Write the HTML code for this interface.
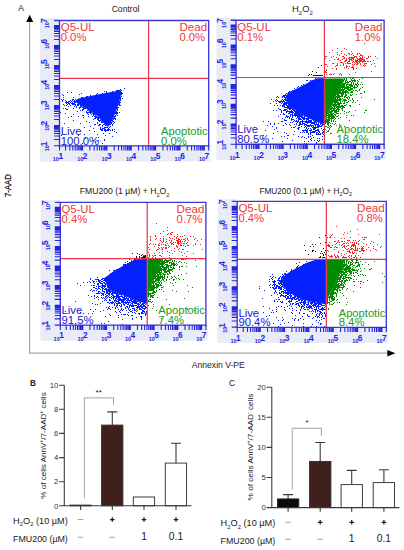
<!DOCTYPE html><html><head><meta charset="utf-8"><style>html,body{margin:0;padding:0;background:#fff;overflow:hidden}svg{display:block}</style></head><body>
<svg width="404" height="550" viewBox="0 0 404 550">
<rect width="404" height="550" fill="#fff"/>
<rect x="39.9" y="18.2" width="19.6" height="143.2" fill="#e9ecf7"/>
<rect x="39.9" y="145.8" width="170.5" height="15.6" fill="#e9ecf7"/>
<rect x="59.5" y="20.5" width="149.2" height="125.3" fill="#fff"/>
<path d="M121.3 90.3 L113.9 91.4 L105.8 93.0 L97.6 94.6 L89.4 96.2 L82.9 97.6 L78.0 98.8 L75.5 100.5 L76.5 102.8 L79.6 104.8 L85.5 108.3 L92.0 112.3 L97.6 116.3 L101.0 120.3 L104.4 123.8 L107.2 126.3 L108.2 127.0 L110.7 123.5 L113.9 116.7 L116.4 110.1 L118.8 103.6 L121.3 93.8 Z" fill="#0420ff"/><path d="M124 88h1M120 89h1M116 90h1M117 90h1M118 90h1M119 90h1M121 90h1M104 91h1M106 91h1M112 91h1M67 92h1M71 92h1M106 92h1M121 92h1M81 93h1M97 93h1M102 93h1M121 93h1M122 93h1M62 94h1M79 94h1M96 94h1M121 94h1M63 95h1M90 95h1M86 96h1M87 96h1M121 96h1M63 97h1M73 97h1M81 97h1M82 97h1M120 97h1M120 98h1M122 98h1M61 99h1M63 99h1M72 99h1M73 99h1M75 99h1M120 99h1M62 100h1M65 100h1M70 100h1M72 100h1M74 100h1M120 100h1M62 101h1M66 101h1M68 101h1M69 101h1M71 101h1M73 101h1M74 101h1M75 101h1M119 101h1M65 102h1M66 102h1M67 102h1M68 102h1M70 102h1M72 102h1M74 102h1M75 102h1M119 102h1M120 102h1M66 103h1M68 103h1M69 103h1M71 103h1M72 103h1M73 103h1M74 103h1M119 103h1M63 104h1M67 104h1M69 104h1M72 104h1M73 104h1M74 104h1M75 104h1M77 104h1M78 104h1M118 104h1M119 104h1M64 105h1M66 105h1M70 105h1M75 105h1M77 105h1M78 105h1M80 105h1M119 105h1M120 105h1M68 106h1M74 106h1M76 106h1M80 106h1M81 106h1M76 107h1M79 107h1M80 107h1M82 107h1M83 107h1M117 107h1M118 107h1M63 108h1M65 108h1M73 108h1M79 108h1M83 108h1M84 108h1M85 108h1M117 108h1M66 109h1M67 109h1M82 109h1M83 109h1M117 109h1M80 110h1M82 110h1M87 110h1M88 110h1M117 110h1M77 111h1M86 111h1M89 111h1M90 111h1M116 111h1M60 112h1M86 112h1M87 112h1M88 112h1M89 112h1M90 112h1M91 112h1M115 112h1M116 112h1M117 112h1M119 112h1M65 113h1M87 113h1M90 113h1M92 113h1M93 113h1M115 113h1M116 113h1M117 113h1M73 114h1M88 114h1M91 114h1M93 114h1M94 114h1M116 114h1M82 115h1M83 115h1M93 115h1M95 115h1M115 115h1M117 115h1M71 116h1M78 116h1M88 116h1M92 116h1M94 116h1M95 116h1M96 116h1M114 116h1M115 116h1M68 117h1M83 117h1M95 117h1M96 117h1M97 117h1M98 117h1M114 117h1M94 118h1M95 118h1M97 118h1M98 118h1M113 118h1M114 118h1M115 118h1M93 119h1M97 119h1M98 119h1M113 119h1M115 119h1M73 120h1M98 120h1M99 120h1M100 120h1M112 120h1M86 121h1M99 121h1M101 121h1M112 121h1M113 121h1M89 122h1M97 122h1M101 122h1M102 122h1M111 122h1M114 122h1M64 123h1M80 123h1M97 123h1M111 123h1M113 123h1M94 124h1M95 124h1M99 124h1M100 124h1M103 124h1M104 124h1M110 124h1M112 124h1M98 125h1M99 125h1M102 125h1M105 125h1M112 125h1M90 126h1M102 126h1M110 126h1M84 127h1M100 127h1M104 127h1M105 127h1M106 127h1M107 127h1M109 127h1M93 128h1M100 128h1M102 128h1M103 128h1M104 128h1M108 128h1M100 129h1M101 129h1M102 129h1M104 129h1M105 129h1M107 129h1M108 129h1M109 129h1M112 129h1M114 129h1M89 130h1M101 130h1M102 130h1M104 130h1M105 130h1M106 130h1M107 130h1M108 130h1M110 130h1M112 130h1M94 131h1M105 131h1M114 131h1M116 132h1M103 133h1M109 133h1M84 134h1M97 134h1M61 135h1M78 135h1M105 135h1M112 136h1M98 137h1M85 138h1M104 139h1M93 140h1M98 140h1M104 140h1M95 142h1M82 143h1M102 143h1" stroke="#0420ff" stroke-width="1" transform="translate(0 0.5)"/>
<path d="M148.6 20.5V145.8M59.5 78.3H208.7" stroke="#ec3248" stroke-width="1.2" fill="none"/>
<path d="M54.0 20.5H208.7V145.8H59.5V20.5" stroke="#3a38d8" stroke-width="1.35" fill="none"/>
<path d="M65.53 145.8V150.6M54.0 139.48H59.5M69.82 145.8V150.6M54.0 135.96H59.5M72.86 145.8V150.6M54.0 133.46H59.5M75.22 145.8V150.6M54.0 131.52H59.5M77.15 145.8V150.6M54.0 129.94H59.5M78.78 145.8V150.6M54.0 128.60H59.5M80.19 145.8V150.6M54.0 127.44H59.5M81.44 145.8V150.6M54.0 126.42H59.5M82.55 145.8V150.6M54.0 125.50H59.5M89.88 145.8V150.6M54.0 119.48H59.5M94.17 145.8V150.6M54.0 115.96H59.5M97.21 145.8V150.6M54.0 113.46H59.5M99.57 145.8V150.6M54.0 111.52H59.5M101.50 145.8V150.6M54.0 109.94H59.5M103.13 145.8V150.6M54.0 108.60H59.5M104.54 145.8V150.6M54.0 107.44H59.5M105.79 145.8V150.6M54.0 106.42H59.5M106.90 145.8V150.6M54.0 105.50H59.5M114.23 145.8V150.6M54.0 99.48H59.5M118.52 145.8V150.6M54.0 95.96H59.5M121.56 145.8V150.6M54.0 93.46H59.5M123.92 145.8V150.6M54.0 91.52H59.5M125.85 145.8V150.6M54.0 89.94H59.5M127.48 145.8V150.6M54.0 88.60H59.5M128.89 145.8V150.6M54.0 87.44H59.5M130.14 145.8V150.6M54.0 86.42H59.5M131.25 145.8V150.6M54.0 85.50H59.5M138.58 145.8V150.6M54.0 79.48H59.5M142.87 145.8V150.6M54.0 75.96H59.5M145.91 145.8V150.6M54.0 73.46H59.5M148.27 145.8V150.6M54.0 71.52H59.5M150.20 145.8V150.6M54.0 69.94H59.5M151.83 145.8V150.6M54.0 68.60H59.5M153.25 145.8V150.6M54.0 67.44H59.5M154.49 145.8V150.6M54.0 66.42H59.5M155.60 145.8V150.6M54.0 65.50H59.5M162.94 145.8V150.6M54.0 59.48H59.5M167.22 145.8V150.6M54.0 55.96H59.5M170.27 145.8V150.6M54.0 53.46H59.5M172.63 145.8V150.6M54.0 51.52H59.5M174.55 145.8V150.6M54.0 49.94H59.5M176.18 145.8V150.6M54.0 48.60H59.5M177.60 145.8V150.6M54.0 47.44H59.5M178.84 145.8V150.6M54.0 46.42H59.5M179.96 145.8V150.6M54.0 45.50H59.5M187.29 145.8V150.6M54.0 39.48H59.5M191.57 145.8V150.6M54.0 35.96H59.5M194.62 145.8V150.6M54.0 33.46H59.5M196.98 145.8V150.6M54.0 31.52H59.5M198.91 145.8V150.6M54.0 29.94H59.5M200.54 145.8V150.6M54.0 28.60H59.5M201.95 145.8V150.6M54.0 27.44H59.5M203.19 145.8V150.6M54.0 26.42H59.5M204.31 145.8V150.6M54.0 25.50H59.5M54.0 145.8H59.5M59.5 145.8V150.6M208.7 145.8V150.6" stroke="#2424e0" stroke-width="1.1" fill="none"/>
<g font-family="'Liberation Sans', sans-serif" fill="#2424e0" font-weight="bold"><text x="52.8" y="161.2" font-size="5.5">10</text><text x="58.4" y="159.1" font-size="8.4">1</text><g transform="translate(49.3 147.4) rotate(-90)"><text x="-3.9" y="0" font-size="5.5">10</text><text x="1.2" y="-2.5" font-size="8.4">1</text></g><text x="77.2" y="161.2" font-size="5.5">10</text><text x="82.8" y="159.1" font-size="8.4">2</text><g transform="translate(49.3 126.8) rotate(-90)"><text x="-3.9" y="0" font-size="5.5">10</text><text x="1.2" y="-2.5" font-size="8.4">2</text></g><text x="101.5" y="161.2" font-size="5.5">10</text><text x="107.1" y="159.1" font-size="8.4">3</text><g transform="translate(49.3 106.3) rotate(-90)"><text x="-3.9" y="0" font-size="5.5">10</text><text x="1.2" y="-2.5" font-size="8.4">3</text></g><text x="125.9" y="161.2" font-size="5.5">10</text><text x="131.5" y="159.1" font-size="8.4">4</text><g transform="translate(49.3 85.8) rotate(-90)"><text x="-3.9" y="0" font-size="5.5">10</text><text x="1.2" y="-2.5" font-size="8.4">4</text></g><text x="150.2" y="161.2" font-size="5.5">10</text><text x="155.8" y="159.1" font-size="8.4">5</text><g transform="translate(49.3 65.3) rotate(-90)"><text x="-3.9" y="0" font-size="5.5">10</text><text x="1.2" y="-2.5" font-size="8.4">5</text></g><text x="174.6" y="161.2" font-size="5.5">10</text><text x="180.2" y="159.1" font-size="8.4">6</text><g transform="translate(49.3 44.8) rotate(-90)"><text x="-3.9" y="0" font-size="5.5">10</text><text x="1.2" y="-2.5" font-size="8.4">6</text></g><text x="198.9" y="161.2" font-size="5.5">10</text><text x="204.5" y="159.1" font-size="8.4">7</text><g transform="translate(49.3 24.3) rotate(-90)"><text x="-3.9" y="0" font-size="5.5">10</text><text x="1.2" y="-2.5" font-size="8.4">7</text></g></g>
<g font-family="'Liberation Sans', sans-serif" font-size="11.3"><text x="60.7" y="31.0" fill="#f03838" textLength="34.0" lengthAdjust="spacingAndGlyphs">Q5-UL</text><text x="60.7" y="41.0" fill="#f03838">0.0%</text><text x="179.4" y="31.0" fill="#f03838" textLength="27.8" lengthAdjust="spacingAndGlyphs">Dead</text><text x="179.4" y="41.0" fill="#f03838">0.0%</text><text x="60.7" y="135.0" fill="#2020cc">Live</text><text x="60.7" y="144.6" fill="#2020cc">100.0%</text><text x="161.1" y="135.0" fill="#1e9a1e" textLength="46.6" lengthAdjust="spacingAndGlyphs">Apoptotic</text><text x="161.1" y="144.6" fill="#1e9a1e">0.0%</text></g>
<rect x="216.5" y="17.9" width="19.6" height="141.9" fill="#e9ecf7"/>
<rect x="216.5" y="144.2" width="169.3" height="15.6" fill="#e9ecf7"/>
<rect x="236.1" y="20.2" width="148.0" height="124.0" fill="#fff"/>
<path d="M324.5 78.3 L317.4 78.3 L311.0 80.8 L306.7 83.6 L297.0 88.5 L287.5 93.0 L285.9 100.9 L290.0 106.0 L295.4 110.4 L302.0 114.7 L309.0 118.6 L316.0 121.5 L324.5 124.0 Z" fill="#0420ff"/><path d="M315 78h1M306 80h1M307 80h1M310 80h1M303 84h1M301 85h1M298 86h1M297 87h1M294 88h1M292 90h1M289 91h1M288 92h1M286 93h1M285 94h1M283 95h1M284 95h1M285 95h1M286 95h1M277 96h1M282 96h1M283 96h1M284 96h1M286 96h1M276 97h1M278 97h1M282 97h1M284 97h1M285 97h1M286 97h1M285 98h1M271 99h1M276 99h1M282 99h1M284 99h1M285 99h1M275 100h1M277 100h1M281 100h1M283 100h1M285 100h1M273 101h1M276 101h1M278 101h1M279 101h1M280 101h1M281 101h1M282 101h1M283 101h1M284 101h1M279 102h1M280 102h1M282 102h1M284 102h1M285 102h1M286 102h1M270 103h1M276 103h1M281 103h1M283 103h1M284 103h1M285 103h1M286 103h1M287 103h1M283 104h1M284 104h1M285 104h1M286 104h1M288 104h1M274 105h1M277 105h1M280 105h1M282 105h1M283 105h1M284 105h1M286 105h1M287 105h1M288 105h1M289 105h1M282 106h1M283 106h1M284 106h1M287 106h1M288 106h1M289 106h1M290 106h1M284 107h1M285 107h1M286 107h1M287 107h1M288 107h1M289 107h1M290 107h1M291 107h1M278 108h1M287 108h1M288 108h1M289 108h1M290 108h1M291 108h1M292 108h1M279 109h1M280 109h1M284 109h1M285 109h1M286 109h1M289 109h1M290 109h1M292 109h1M293 109h1M273 110h1M276 110h1M281 110h1M283 110h1M284 110h1M285 110h1M287 110h1M291 110h1M293 110h1M294 110h1M281 111h1M286 111h1M287 111h1M288 111h1M289 111h1M290 111h1M291 111h1M292 111h1M294 111h1M295 111h1M296 111h1M281 112h1M286 112h1M289 112h1M290 112h1M291 112h1M292 112h1M293 112h1M295 112h1M296 112h1M297 112h1M298 112h1M283 113h1M288 113h1M289 113h1M292 113h1M294 113h1M295 113h1M296 113h1M297 113h1M298 113h1M299 113h1M280 114h1M283 114h1M284 114h1M290 114h1M291 114h1M292 114h1M294 114h1M295 114h1M296 114h1M297 114h1M298 114h1M299 114h1M300 114h1M301 114h1M286 115h1M290 115h1M292 115h1M293 115h1M294 115h1M295 115h1M296 115h1M297 115h1M298 115h1M299 115h1M300 115h1M301 115h1M302 115h1M278 116h1M286 116h1M287 116h1M288 116h1M290 116h1M292 116h1M295 116h1M297 116h1M298 116h1M299 116h1M300 116h1M301 116h1M302 116h1M304 116h1M285 117h1M287 117h1M289 117h1M292 117h1M297 117h1M298 117h1M299 117h1M301 117h1M302 117h1M303 117h1M304 117h1M282 118h1M289 118h1M291 118h1M296 118h1M298 118h1M299 118h1M300 118h1M302 118h1M303 118h1M304 118h1M305 118h1M306 118h1M307 118h1M308 118h1M284 119h1M291 119h1M292 119h1M293 119h1M298 119h1M299 119h1M300 119h1M301 119h1M303 119h1M304 119h1M306 119h1M307 119h1M308 119h1M284 120h1M285 120h1M286 120h1M291 120h1M294 120h1M296 120h1M298 120h1M302 120h1M306 120h1M308 120h1M309 120h1M310 120h1M311 120h1M313 120h1M263 121h1M268 121h1M281 121h1M282 121h1M293 121h1M295 121h1M296 121h1M297 121h1M298 121h1M300 121h1M301 121h1M302 121h1M303 121h1M304 121h1M305 121h1M306 121h1M307 121h1M308 121h1M309 121h1M310 121h1M311 121h1M314 121h1M315 121h1M290 122h1M292 122h1M297 122h1M299 122h1M300 122h1M302 122h1M305 122h1M306 122h1M307 122h1M308 122h1M309 122h1M310 122h1M311 122h1M312 122h1M313 122h1M314 122h1M315 122h1M316 122h1M318 122h1M270 123h1M274 123h1M278 123h1M285 123h1M296 123h1M299 123h1M300 123h1M302 123h1M303 123h1M304 123h1M307 123h1M311 123h1M312 123h1M313 123h1M314 123h1M316 123h1M318 123h1M320 123h1M321 123h1M322 123h1M270 124h1M274 124h1M286 124h1M289 124h1M294 124h1M296 124h1M299 124h1M300 124h1M301 124h1M302 124h1M304 124h1M305 124h1M306 124h1M310 124h1M314 124h1M315 124h1M316 124h1M317 124h1M318 124h1M320 124h1M322 124h1M323 124h1M267 125h1M283 125h1M290 125h1M298 125h1M299 125h1M304 125h1M306 125h1M307 125h1M308 125h1M309 125h1M310 125h1M311 125h1M312 125h1M313 125h1M315 125h1M317 125h1M318 125h1M319 125h1M321 125h1M322 125h1M272 126h1M295 126h1M301 126h1M305 126h1M307 126h1M308 126h1M309 126h1M311 126h1M313 126h1M315 126h1M317 126h1M318 126h1M319 126h1M320 126h1M321 126h1M254 127h1M276 127h1M291 127h1M293 127h1M294 127h1M298 127h1M299 127h1M304 127h1M306 127h1M312 127h1M313 127h1M314 127h1M315 127h1M316 127h1M317 127h1M318 127h1M276 128h1M297 128h1M298 128h1M306 128h1M308 128h1M310 128h1M313 128h1M314 128h1M315 128h1M321 128h1M274 129h1M298 129h1M305 129h1M307 129h1M311 129h1M313 129h1M314 129h1M317 129h1M318 129h1M323 129h1M265 130h1M302 130h1M303 130h1M304 130h1M305 130h1M306 130h1M307 130h1M309 130h1M310 130h1M311 130h1M315 130h1M316 130h1M317 130h1M318 130h1M322 130h1M277 131h1M294 131h1M303 131h1M306 131h1M307 131h1M310 131h1M312 131h1M313 131h1M314 131h1M315 131h1M318 131h1M319 131h1M323 131h1M284 132h1M300 132h1M302 132h1M304 132h1M306 132h1M307 132h1M310 132h1M311 132h1M312 132h1M313 132h1M314 132h1M316 132h1M317 132h1M319 132h1M322 132h1M323 132h1M273 133h1M286 133h1M308 133h1M310 133h1M316 133h1M318 133h1M320 133h1M322 133h1M293 134h1M308 134h1M310 134h1M316 134h1M317 134h1M318 134h1M319 134h1M320 134h1M323 134h1M263 135h1M287 135h1M288 135h1M312 135h1M281 136h1M284 136h1M298 136h1M302 136h1M308 136h1M310 136h1M322 136h1M301 137h1M304 137h1M308 137h1M313 137h1M263 138h1M272 138h1M287 138h1M306 138h1M311 138h1M317 138h1M319 138h1M310 139h1M322 139h1M292 140h1M311 140h1M314 140h1M317 140h1M319 140h1M282 141h1M304 141h1M308 141h1M318 141h1M316 142h1M304 143h1M306 143h1M316 143h1" stroke="#0420ff" stroke-width="1" transform="translate(0 0.5)"/><path d="M325.0 78.5 L344.0 78.5 L341.0 86.0 L335.0 98.0 L329.0 111.0 L325.2 121.0 Z" fill="#008a00"/><path d="M344 78h1M346 78h1M350 78h1M352 78h1M353 78h1M362 78h1M344 79h1M346 79h1M351 79h1M354 79h1M359 79h1M343 80h1M345 80h1M346 80h1M351 80h1M352 80h1M353 80h1M354 80h1M355 80h1M357 80h1M343 81h1M345 81h1M347 81h1M349 81h1M350 81h1M352 81h1M354 81h1M355 81h1M358 81h1M342 82h1M345 82h1M346 82h1M347 82h1M348 82h1M351 82h1M353 82h1M357 82h1M361 82h1M342 83h1M343 83h1M344 83h1M345 83h1M347 83h1M351 83h1M353 83h1M355 83h1M357 83h1M342 84h1M343 84h1M344 84h1M346 84h1M347 84h1M348 84h1M349 84h1M350 84h1M351 84h1M353 84h1M355 84h1M356 84h1M358 84h1M360 84h1M362 84h1M341 85h1M342 85h1M343 85h1M344 85h1M346 85h1M349 85h1M350 85h1M351 85h1M352 85h1M354 85h1M356 85h1M357 85h1M341 86h1M342 86h1M343 86h1M344 86h1M346 86h1M347 86h1M348 86h1M350 86h1M351 86h1M352 86h1M354 86h1M357 86h1M340 87h1M341 87h1M342 87h1M343 87h1M344 87h1M345 87h1M346 87h1M347 87h1M348 87h1M349 87h1M350 87h1M353 87h1M354 87h1M355 87h1M356 87h1M362 87h1M340 88h1M342 88h1M344 88h1M345 88h1M346 88h1M347 88h1M348 88h1M350 88h1M351 88h1M352 88h1M354 88h1M360 88h1M339 89h1M340 89h1M341 89h1M342 89h1M343 89h1M344 89h1M347 89h1M348 89h1M349 89h1M350 89h1M351 89h1M352 89h1M359 89h1M339 90h1M340 90h1M341 90h1M342 90h1M343 90h1M345 90h1M346 90h1M348 90h1M349 90h1M350 90h1M353 90h1M355 90h1M356 90h1M359 90h1M338 91h1M339 91h1M340 91h1M342 91h1M343 91h1M344 91h1M345 91h1M346 91h1M347 91h1M351 91h1M352 91h1M357 91h1M364 91h1M338 92h1M339 92h1M340 92h1M341 92h1M342 92h1M343 92h1M344 92h1M345 92h1M346 92h1M347 92h1M348 92h1M350 92h1M351 92h1M352 92h1M364 92h1M337 93h1M338 93h1M339 93h1M340 93h1M341 93h1M342 93h1M343 93h1M345 93h1M348 93h1M360 93h1M361 93h1M337 94h1M338 94h1M341 94h1M342 94h1M343 94h1M345 94h1M346 94h1M350 94h1M352 94h1M356 94h1M337 95h1M338 95h1M339 95h1M341 95h1M342 95h1M345 95h1M346 95h1M350 95h1M351 95h1M336 96h1M337 96h1M338 96h1M339 96h1M340 96h1M341 96h1M342 96h1M344 96h1M345 96h1M348 96h1M335 97h1M336 97h1M337 97h1M338 97h1M339 97h1M344 97h1M346 97h1M347 97h1M349 97h1M361 97h1M335 98h1M337 98h1M339 98h1M340 98h1M342 98h1M347 98h1M349 98h1M352 98h1M334 99h1M335 99h1M336 99h1M337 99h1M338 99h1M339 99h1M340 99h1M341 99h1M343 99h1M344 99h1M345 99h1M348 99h1M352 99h1M374 99h1M334 100h1M335 100h1M336 100h1M337 100h1M338 100h1M339 100h1M340 100h1M343 100h1M344 100h1M345 100h1M346 100h1M350 100h1M353 100h1M357 100h1M333 101h1M334 101h1M335 101h1M336 101h1M337 101h1M340 101h1M342 101h1M344 101h1M348 101h1M353 101h1M333 102h1M334 102h1M335 102h1M336 102h1M337 102h1M338 102h1M340 102h1M344 102h1M346 102h1M347 102h1M352 102h1M355 102h1M332 103h1M334 103h1M335 103h1M337 103h1M338 103h1M339 103h1M340 103h1M341 103h1M343 103h1M344 103h1M332 104h1M333 104h1M334 104h1M335 104h1M336 104h1M337 104h1M338 104h1M339 104h1M346 104h1M359 104h1M332 105h1M333 105h1M334 105h1M335 105h1M336 105h1M338 105h1M339 105h1M341 105h1M342 105h1M344 105h1M345 105h1M349 105h1M350 105h1M331 106h1M333 106h1M334 106h1M335 106h1M336 106h1M337 106h1M338 106h1M339 106h1M340 106h1M341 106h1M342 106h1M343 106h1M350 106h1M331 107h1M332 107h1M334 107h1M336 107h1M337 107h1M338 107h1M339 107h1M340 107h1M342 107h1M343 107h1M344 107h1M330 108h1M331 108h1M332 108h1M333 108h1M334 108h1M335 108h1M337 108h1M338 108h1M341 108h1M342 108h1M330 109h1M331 109h1M333 109h1M334 109h1M336 109h1M337 109h1M338 109h1M339 109h1M342 109h1M329 110h1M331 110h1M332 110h1M333 110h1M334 110h1M335 110h1M336 110h1M338 110h1M342 110h1M355 110h1M365 110h1M366 110h1M329 111h1M330 111h1M331 111h1M332 111h1M334 111h1M335 111h1M336 111h1M337 111h1M338 111h1M344 111h1M349 111h1M328 112h1M329 112h1M330 112h1M331 112h1M334 112h1M335 112h1M336 112h1M346 112h1M348 112h1M364 112h1M328 113h1M330 113h1M331 113h1M332 113h1M333 113h1M336 113h1M337 113h1M338 113h1M340 113h1M344 113h1M328 114h1M329 114h1M330 114h1M331 114h1M332 114h1M334 114h1M335 114h1M327 115h1M328 115h1M329 115h1M330 115h1M331 115h1M332 115h1M333 115h1M335 115h1M338 115h1M346 115h1M351 115h1M353 115h1M328 116h1M329 116h1M330 116h1M331 116h1M332 116h1M333 116h1M334 116h1M336 116h1M337 116h1M327 117h1M328 117h1M329 117h1M331 117h1M332 117h1M333 117h1M334 117h1M340 117h1M346 117h1M326 118h1M328 118h1M329 118h1M330 118h1M331 118h1M332 118h1M333 118h1M335 118h1M338 118h1M326 119h1M327 119h1M328 119h1M329 119h1M331 119h1M334 119h1M325 120h1M326 120h1M327 120h1M328 120h1M329 120h1M331 120h1M333 120h1M349 120h1M325 121h1M326 121h1M327 121h1M328 121h1M331 121h1M333 121h1M335 121h1M325 122h1M326 122h1M327 122h1M328 122h1M329 122h1M325 123h1M327 123h1M328 123h1M330 123h1M332 123h1M335 123h1M327 124h1M328 124h1M334 124h1M339 124h1M328 125h1M330 125h1M336 125h1M325 126h1M326 126h1M329 126h1M331 126h1M344 126h1M327 127h1M328 127h1M330 127h1M339 127h1M329 128h1M325 129h1M329 129h1M328 130h1M327 131h1M328 131h1M326 132h1M330 133h1M331 133h1" stroke="#008a00" stroke-width="1" transform="translate(0 0.5)"/><path d="M329 52h1M331 57h1M332 63h1M334 59h1M335 66h1M336 57h1M336 65h1M338 58h1M338 59h1M339 55h1M340 62h1M342 59h1M342 62h1M343 56h1M343 58h1M343 63h1M343 64h1M344 48h1M344 54h1M344 57h1M344 58h1M344 61h1M344 67h1M345 60h1M345 61h1M345 63h1M346 49h1M346 55h1M346 58h1M346 59h1M346 60h1M346 65h1M346 67h1M347 62h1M347 63h1M348 53h1M348 58h1M348 61h1M348 63h1M348 68h1M349 53h1M349 54h1M349 57h1M349 58h1M349 60h1M349 61h1M349 63h1M349 66h1M350 57h1M350 59h1M350 63h1M351 51h1M351 57h1M351 58h1M351 59h1M351 60h1M352 53h1M352 58h1M352 60h1M352 64h1M352 67h1M353 55h1M353 57h1M353 59h1M353 61h1M353 65h1M353 68h1M354 62h1M354 64h1M355 60h1M355 61h1M355 63h1M356 64h1M357 53h1M357 54h1M357 58h1M357 61h1M357 62h1M357 63h1M357 64h1M358 63h1M359 53h1M359 56h1M359 58h1M359 59h1M360 54h1M360 55h1M360 57h1M360 61h1M360 64h1M361 55h1M362 55h1M362 56h1M362 59h1M362 61h1M362 62h1M363 65h1M364 43h1M364 61h1M364 64h1M364 66h1M365 61h1M365 63h1M365 65h1M366 63h1M367 58h1M367 61h1M368 57h1M368 61h1M370 56h1M370 61h1M371 64h1M371 71h1M373 60h1M374 63h1M375 56h1M375 66h1M377 58h1" stroke="#ff2020" stroke-width="1" transform="translate(0 0.5)"/><path d="M346 59h1M349 59h1M351 60h1M352 57h1M352 62h1M353 58h1M354 57h1M355 59h1M355 60h1M356 56h1M356 57h1M356 60h1M356 61h1M356 62h1M357 59h1M357 60h1M357 61h1M357 62h1M358 59h1M358 61h1M359 60h1M359 61h1M359 62h1M360 57h1M360 58h1M360 59h1M360 61h1M360 63h1M361 58h1M361 59h1M361 60h1M361 61h1M362 57h1M362 58h1M363 59h1M363 60h1M363 61h1M364 57h1M364 59h1M364 60h1M364 63h1M366 58h1M368 56h1" stroke="#ff2020" stroke-width="1" transform="translate(0 0.5)"/><path d="M325 64h1M329 60h1M332 50h1M332 68h1M333 56h1M333 63h1M334 73h1M336 68h1M336 69h1M337 48h1M337 52h1M337 54h1M337 59h1M337 63h1M337 64h1M337 65h1M340 60h1M340 65h1M340 73h1M341 51h1M341 53h1M341 62h1M341 74h1M342 56h1M343 65h1M346 66h1M347 66h1M351 54h1M351 67h1M352 58h1M352 66h1M353 67h1M353 69h1M354 56h1M355 56h1M355 72h1M356 68h1M360 60h1" stroke="#ff2020" stroke-width="1" transform="translate(0 0.5)"/><path d="M308 75h1M309 74h1M311 74h1M312 71h1M316 72h1M318 67h1M321 65h1" stroke="#111" stroke-width="1" transform="translate(0 0.5)"/><path d="M326 74h1M329 74h1M330 74h1M331 74h1M333 74h1M339 74h1M341 74h1M341 75h1M349 74h1M325 56h1M326 56h1M325 58h1M326 64h1M327 66h1M326 69h1M326 70h1M325 71h1M325 72h1M326 72h1" stroke="#ff2020" stroke-width="1" transform="translate(0 0.5)"/><path d="M313 75h1M314 75h1M315 75h1M316 75h1M317 75h1M318 75h1M319 75h1M320 75h1M321 75h1M322 75h1" stroke="#221010" stroke-width="1" transform="translate(0 0.5)"/>
<path d="M324.4 20.2V144.2M236.1 77.5H384.1" stroke="#ec3248" stroke-width="1.2" fill="none"/>
<path d="M230.6 20.2H384.1V144.2H236.1V20.2" stroke="#3a38d8" stroke-width="1.35" fill="none"/>
<path d="M242.08 144.2V149.0M230.6 137.94H236.1M246.34 144.2V149.0M230.6 134.46H236.1M249.35 144.2V149.0M230.6 131.99H236.1M251.69 144.2V149.0M230.6 130.07H236.1M253.61 144.2V149.0M230.6 128.50H236.1M255.22 144.2V149.0M230.6 127.18H236.1M256.62 144.2V149.0M230.6 126.03H236.1M257.86 144.2V149.0M230.6 125.02H236.1M258.97 144.2V149.0M230.6 124.11H236.1M266.24 144.2V149.0M230.6 118.15H236.1M270.49 144.2V149.0M230.6 114.67H236.1M273.51 144.2V149.0M230.6 112.19H236.1M275.85 144.2V149.0M230.6 110.28H236.1M277.76 144.2V149.0M230.6 108.71H236.1M279.38 144.2V149.0M230.6 107.38H236.1M280.78 144.2V149.0M230.6 106.24H236.1M282.02 144.2V149.0M230.6 105.22H236.1M283.12 144.2V149.0M230.6 104.32H236.1M290.39 144.2V149.0M230.6 98.36H236.1M294.65 144.2V149.0M230.6 94.87H236.1M297.66 144.2V149.0M230.6 92.40H236.1M300.01 144.2V149.0M230.6 90.48H236.1M301.92 144.2V149.0M230.6 88.92H236.1M303.53 144.2V149.0M230.6 87.59H236.1M304.94 144.2V149.0M230.6 86.44H236.1M306.17 144.2V149.0M230.6 85.43H236.1M307.28 144.2V149.0M230.6 84.53H236.1M314.55 144.2V149.0M230.6 78.57H236.1M318.80 144.2V149.0M230.6 75.08H236.1M321.82 144.2V149.0M230.6 72.61H236.1M324.16 144.2V149.0M230.6 70.69H236.1M326.07 144.2V149.0M230.6 69.12H236.1M327.69 144.2V149.0M230.6 67.80H236.1M329.09 144.2V149.0M230.6 66.65H236.1M330.33 144.2V149.0M230.6 65.64H236.1M331.43 144.2V149.0M230.6 64.73H236.1M338.70 144.2V149.0M230.6 58.77H236.1M342.96 144.2V149.0M230.6 55.29H236.1M345.97 144.2V149.0M230.6 52.82H236.1M348.32 144.2V149.0M230.6 50.90H236.1M350.23 144.2V149.0M230.6 49.33H236.1M351.85 144.2V149.0M230.6 48.01H236.1M353.25 144.2V149.0M230.6 46.86H236.1M354.48 144.2V149.0M230.6 45.85H236.1M355.59 144.2V149.0M230.6 44.94H236.1M362.86 144.2V149.0M230.6 38.98H236.1M367.11 144.2V149.0M230.6 35.50H236.1M370.13 144.2V149.0M230.6 33.02H236.1M372.47 144.2V149.0M230.6 31.11H236.1M374.38 144.2V149.0M230.6 29.54H236.1M376.00 144.2V149.0M230.6 28.21H236.1M377.40 144.2V149.0M230.6 27.07H236.1M378.64 144.2V149.0M230.6 26.05H236.1M379.74 144.2V149.0M230.6 25.15H236.1M230.6 144.2H236.1M236.1 144.2V149.0M384.1 144.2V149.0" stroke="#2424e0" stroke-width="1.1" fill="none"/>
<g font-family="'Liberation Sans', sans-serif" fill="#2424e0" font-weight="bold"><text x="229.4" y="159.6" font-size="5.5">10</text><text x="235.0" y="157.5" font-size="8.4">1</text><g transform="translate(225.9 145.8) rotate(-90)"><text x="-3.9" y="0" font-size="5.5">10</text><text x="1.2" y="-2.5" font-size="8.4">1</text></g><text x="253.6" y="159.6" font-size="5.5">10</text><text x="259.2" y="157.5" font-size="8.4">2</text><g transform="translate(225.9 125.5) rotate(-90)"><text x="-3.9" y="0" font-size="5.5">10</text><text x="1.2" y="-2.5" font-size="8.4">2</text></g><text x="277.7" y="159.6" font-size="5.5">10</text><text x="283.3" y="157.5" font-size="8.4">3</text><g transform="translate(225.9 105.2) rotate(-90)"><text x="-3.9" y="0" font-size="5.5">10</text><text x="1.2" y="-2.5" font-size="8.4">3</text></g><text x="301.9" y="159.6" font-size="5.5">10</text><text x="307.5" y="157.5" font-size="8.4">4</text><g transform="translate(225.9 84.8) rotate(-90)"><text x="-3.9" y="0" font-size="5.5">10</text><text x="1.2" y="-2.5" font-size="8.4">4</text></g><text x="326.0" y="159.6" font-size="5.5">10</text><text x="331.6" y="157.5" font-size="8.4">5</text><g transform="translate(225.9 64.6) rotate(-90)"><text x="-3.9" y="0" font-size="5.5">10</text><text x="1.2" y="-2.5" font-size="8.4">5</text></g><text x="350.2" y="159.6" font-size="5.5">10</text><text x="355.8" y="157.5" font-size="8.4">6</text><g transform="translate(225.9 44.3) rotate(-90)"><text x="-3.9" y="0" font-size="5.5">10</text><text x="1.2" y="-2.5" font-size="8.4">6</text></g><text x="374.3" y="159.6" font-size="5.5">10</text><text x="379.9" y="157.5" font-size="8.4">7</text><g transform="translate(225.9 24.0) rotate(-90)"><text x="-3.9" y="0" font-size="5.5">10</text><text x="1.2" y="-2.5" font-size="8.4">7</text></g></g>
<g font-family="'Liberation Sans', sans-serif" font-size="11.3"><text x="237.3" y="30.7" fill="#f03838" textLength="33.7" lengthAdjust="spacingAndGlyphs">Q5-UL</text><text x="237.3" y="40.7" fill="#f03838">0.1%</text><text x="354.8" y="30.7" fill="#f03838" textLength="27.8" lengthAdjust="spacingAndGlyphs">Dead</text><text x="354.8" y="40.7" fill="#f03838">1.0%</text><text x="237.3" y="133.4" fill="#2020cc">Live</text><text x="237.3" y="143.0" fill="#2020cc">80.5%</text><text x="336.5" y="133.4" fill="#1e9a1e" textLength="46.6" lengthAdjust="spacingAndGlyphs">Apoptotic</text><text x="336.5" y="143.0" fill="#1e9a1e">18.4%</text></g>
<rect x="40.7" y="200.1" width="19.6" height="140.6" fill="#e9ecf7"/>
<rect x="40.7" y="325.1" width="166.9" height="15.6" fill="#e9ecf7"/>
<rect x="60.3" y="202.4" width="145.6" height="122.7" fill="#fff"/>
<path d="M147.2 259.1 L136.0 259.3 L124.1 265.2 L114.0 271.0 L105.9 277.0 L105.5 280.0 L107.2 287.7 L113.0 291.5 L120.9 294.5 L134.5 300.0 L147.2 304.0 Z" fill="#0420ff"/><path d="M129 259h1M134 259h1M135 259h1M131 260h1M133 260h1M127 261h1M131 261h1M125 262h1M129 262h1M127 263h1M123 264h1M124 264h1M125 264h1M123 265h1M116 269h1M109 270h1M113 270h1M114 270h1M110 273h1M97 277h1M105 277h1M90 278h1M102 278h1M103 278h1M104 278h1M105 278h1M90 279h1M95 279h1M96 279h1M97 279h1M98 279h1M101 279h1M102 279h1M104 279h1M105 279h1M92 280h1M98 280h1M99 280h1M100 280h1M103 280h1M104 280h1M105 280h1M89 281h1M93 281h1M94 281h1M96 281h1M98 281h1M99 281h1M101 281h1M102 281h1M105 281h1M83 282h1M87 282h1M90 282h1M93 282h1M99 282h1M100 282h1M103 282h1M104 282h1M77 283h1M94 283h1M97 283h1M98 283h1M100 283h1M101 283h1M102 283h1M104 283h1M105 283h1M97 284h1M98 284h1M102 284h1M105 284h1M80 285h1M91 285h1M93 285h1M94 285h1M98 285h1M101 285h1M102 285h1M103 285h1M104 285h1M105 285h1M96 286h1M98 286h1M99 286h1M100 286h1M102 286h1M103 286h1M104 286h1M105 286h1M93 287h1M94 287h1M98 287h1M101 287h1M102 287h1M104 287h1M95 288h1M96 288h1M98 288h1M99 288h1M102 288h1M103 288h1M105 288h1M106 288h1M91 289h1M97 289h1M100 289h1M102 289h1M104 289h1M105 289h1M106 289h1M107 289h1M108 289h1M109 289h1M90 290h1M93 290h1M94 290h1M96 290h1M102 290h1M106 290h1M107 290h1M108 290h1M109 290h1M110 290h1M92 291h1M98 291h1M99 291h1M102 291h1M103 291h1M104 291h1M106 291h1M107 291h1M108 291h1M109 291h1M110 291h1M111 291h1M112 291h1M98 292h1M100 292h1M104 292h1M106 292h1M107 292h1M109 292h1M110 292h1M112 292h1M113 292h1M114 292h1M115 292h1M96 293h1M97 293h1M98 293h1M99 293h1M101 293h1M102 293h1M103 293h1M106 293h1M107 293h1M108 293h1M109 293h1M111 293h1M112 293h1M113 293h1M114 293h1M115 293h1M116 293h1M117 293h1M102 294h1M103 294h1M105 294h1M108 294h1M109 294h1M111 294h1M112 294h1M116 294h1M117 294h1M118 294h1M119 294h1M120 294h1M88 295h1M94 295h1M101 295h1M103 295h1M106 295h1M107 295h1M109 295h1M112 295h1M113 295h1M116 295h1M117 295h1M118 295h1M121 295h1M91 296h1M94 296h1M97 296h1M105 296h1M106 296h1M108 296h1M111 296h1M113 296h1M114 296h1M115 296h1M116 296h1M117 296h1M118 296h1M119 296h1M120 296h1M121 296h1M122 296h1M124 296h1M125 296h1M96 297h1M98 297h1M101 297h1M103 297h1M105 297h1M107 297h1M109 297h1M110 297h1M112 297h1M113 297h1M114 297h1M116 297h1M117 297h1M118 297h1M119 297h1M122 297h1M123 297h1M124 297h1M126 297h1M94 298h1M102 298h1M104 298h1M106 298h1M111 298h1M113 298h1M115 298h1M116 298h1M118 298h1M119 298h1M120 298h1M123 298h1M124 298h1M125 298h1M126 298h1M127 298h1M128 298h1M130 298h1M98 299h1M105 299h1M109 299h1M113 299h1M115 299h1M117 299h1M118 299h1M119 299h1M120 299h1M121 299h1M122 299h1M123 299h1M124 299h1M125 299h1M127 299h1M128 299h1M130 299h1M131 299h1M132 299h1M104 300h1M106 300h1M109 300h1M110 300h1M114 300h1M115 300h1M116 300h1M118 300h1M119 300h1M120 300h1M121 300h1M122 300h1M123 300h1M124 300h1M126 300h1M127 300h1M128 300h1M129 300h1M130 300h1M131 300h1M133 300h1M134 300h1M135 300h1M75 301h1M102 301h1M112 301h1M114 301h1M116 301h1M117 301h1M118 301h1M121 301h1M122 301h1M123 301h1M125 301h1M127 301h1M129 301h1M131 301h1M132 301h1M133 301h1M134 301h1M135 301h1M136 301h1M137 301h1M138 301h1M107 302h1M108 302h1M110 302h1M111 302h1M112 302h1M113 302h1M115 302h1M118 302h1M119 302h1M121 302h1M122 302h1M123 302h1M124 302h1M125 302h1M126 302h1M127 302h1M128 302h1M129 302h1M130 302h1M132 302h1M133 302h1M134 302h1M135 302h1M136 302h1M139 302h1M140 302h1M92 303h1M100 303h1M109 303h1M111 303h1M112 303h1M114 303h1M116 303h1M117 303h1M118 303h1M119 303h1M120 303h1M123 303h1M125 303h1M126 303h1M128 303h1M131 303h1M132 303h1M134 303h1M135 303h1M136 303h1M137 303h1M138 303h1M140 303h1M142 303h1M143 303h1M144 303h1M95 304h1M97 304h1M114 304h1M117 304h1M121 304h1M123 304h1M124 304h1M127 304h1M128 304h1M130 304h1M132 304h1M137 304h1M138 304h1M139 304h1M141 304h1M142 304h1M143 304h1M145 304h1M114 305h1M116 305h1M117 305h1M119 305h1M121 305h1M124 305h1M129 305h1M130 305h1M131 305h1M132 305h1M133 305h1M134 305h1M135 305h1M136 305h1M138 305h1M140 305h1M141 305h1M143 305h1M144 305h1M109 306h1M116 306h1M120 306h1M121 306h1M126 306h1M127 306h1M129 306h1M131 306h1M132 306h1M133 306h1M137 306h1M138 306h1M139 306h1M140 306h1M141 306h1M142 306h1M143 306h1M144 306h1M145 306h1M106 307h1M108 307h1M112 307h1M115 307h1M117 307h1M125 307h1M127 307h1M129 307h1M136 307h1M137 307h1M138 307h1M139 307h1M141 307h1M142 307h1M145 307h1M146 307h1M108 308h1M109 308h1M115 308h1M121 308h1M125 308h1M128 308h1M132 308h1M133 308h1M134 308h1M137 308h1M139 308h1M140 308h1M142 308h1M143 308h1M144 308h1M145 308h1M90 309h1M95 309h1M107 309h1M110 309h1M118 309h1M121 309h1M123 309h1M128 309h1M130 309h1M134 309h1M136 309h1M139 309h1M140 309h1M141 309h1M144 309h1M103 310h1M120 310h1M122 310h1M126 310h1M129 310h1M132 310h1M134 310h1M135 310h1M137 310h1M142 310h1M143 310h1M65 311h1M93 311h1M100 311h1M115 311h1M119 311h1M130 311h1M131 311h1M136 311h1M142 311h1M143 311h1M144 311h1M146 311h1M80 312h1M116 312h1M120 312h1M128 312h1M132 312h1M134 312h1M141 312h1M142 312h1M144 312h1M146 312h1M83 313h1M88 313h1M92 313h1M135 313h1M138 313h1M139 313h1M141 313h1M142 313h1M143 313h1M145 313h1M146 313h1M109 314h1M121 314h1M123 314h1M124 314h1M125 314h1M127 314h1M139 314h1M145 314h1M110 315h1M118 315h1M128 315h1M131 315h1M132 315h1M145 315h1M81 316h1M105 316h1M140 316h1M141 316h1M118 317h1M136 317h1M141 317h1M132 318h1M141 318h1M122 319h1M132 319h1M141 319h1M108 321h1M75 323h1M101 323h1M104 323h1M122 324h1" stroke="#0420ff" stroke-width="1" transform="translate(0 0.5)"/><path d="M147.8 258.9 L161.7 258.9 L159.0 267.2 L153.6 278.1 L149.5 289.0 L147.8 294.5 Z" fill="#008a00"/><path d="M162 259h1M165 259h1M170 259h1M171 259h1M181 259h1M182 259h1M183 259h1M185 259h1M161 260h1M162 260h1M164 260h1M165 260h1M166 260h1M167 260h1M168 260h1M169 260h1M170 260h1M172 260h1M174 260h1M195 260h1M161 261h1M162 261h1M163 261h1M164 261h1M166 261h1M167 261h1M168 261h1M172 261h1M174 261h1M176 261h1M179 261h1M161 262h1M162 262h1M163 262h1M164 262h1M165 262h1M166 262h1M167 262h1M169 262h1M170 262h1M171 262h1M173 262h1M178 262h1M181 262h1M184 262h1M160 263h1M161 263h1M162 263h1M163 263h1M164 263h1M169 263h1M171 263h1M172 263h1M173 263h1M174 263h1M176 263h1M186 263h1M160 264h1M161 264h1M162 264h1M163 264h1M165 264h1M166 264h1M167 264h1M171 264h1M172 264h1M173 264h1M174 264h1M175 264h1M177 264h1M161 265h1M162 265h1M164 265h1M166 265h1M167 265h1M168 265h1M169 265h1M170 265h1M171 265h1M173 265h1M174 265h1M176 265h1M159 266h1M160 266h1M161 266h1M162 266h1M163 266h1M166 266h1M167 266h1M168 266h1M170 266h1M173 266h1M179 266h1M181 266h1M182 266h1M186 266h1M196 266h1M159 267h1M160 267h1M162 267h1M163 267h1M164 267h1M165 267h1M166 267h1M167 267h1M168 267h1M170 267h1M171 267h1M173 267h1M179 267h1M158 268h1M159 268h1M160 268h1M161 268h1M163 268h1M164 268h1M165 268h1M166 268h1M168 268h1M172 268h1M173 268h1M174 268h1M158 269h1M159 269h1M160 269h1M161 269h1M162 269h1M163 269h1M164 269h1M165 269h1M166 269h1M168 269h1M169 269h1M170 269h1M171 269h1M172 269h1M179 269h1M157 270h1M158 270h1M159 270h1M160 270h1M161 270h1M163 270h1M164 270h1M165 270h1M167 270h1M168 270h1M169 270h1M170 270h1M171 270h1M157 271h1M158 271h1M159 271h1M161 271h1M164 271h1M165 271h1M166 271h1M167 271h1M168 271h1M169 271h1M172 271h1M156 272h1M157 272h1M158 272h1M159 272h1M160 272h1M161 272h1M164 272h1M165 272h1M166 272h1M169 272h1M156 273h1M157 273h1M159 273h1M160 273h1M162 273h1M163 273h1M167 273h1M169 273h1M170 273h1M186 273h1M155 274h1M157 274h1M158 274h1M159 274h1M160 274h1M161 274h1M163 274h1M164 274h1M165 274h1M167 274h1M168 274h1M181 274h1M155 275h1M156 275h1M157 275h1M158 275h1M160 275h1M162 275h1M164 275h1M178 275h1M154 276h1M155 276h1M156 276h1M157 276h1M158 276h1M159 276h1M160 276h1M161 276h1M162 276h1M164 276h1M167 276h1M171 276h1M174 276h1M154 277h1M155 277h1M157 277h1M158 277h1M159 277h1M160 277h1M161 277h1M162 277h1M163 277h1M164 277h1M167 277h1M172 277h1M175 277h1M153 278h1M154 278h1M155 278h1M156 278h1M157 278h1M158 278h1M159 278h1M160 278h1M162 278h1M164 278h1M171 278h1M176 278h1M178 278h1M153 279h1M155 279h1M156 279h1M157 279h1M158 279h1M159 279h1M162 279h1M163 279h1M166 279h1M169 279h1M173 279h1M174 279h1M179 279h1M183 279h1M153 280h1M155 280h1M156 280h1M157 280h1M158 280h1M159 280h1M161 280h1M163 280h1M166 280h1M173 280h1M152 281h1M153 281h1M154 281h1M155 281h1M156 281h1M158 281h1M160 281h1M164 281h1M152 282h1M153 282h1M154 282h1M157 282h1M158 282h1M159 282h1M161 282h1M170 282h1M175 282h1M152 283h1M153 283h1M155 283h1M156 283h1M159 283h1M161 283h1M172 283h1M151 284h1M153 284h1M155 284h1M156 284h1M157 284h1M158 284h1M160 284h1M151 285h1M152 285h1M153 285h1M154 285h1M156 285h1M157 285h1M158 285h1M159 285h1M160 285h1M161 285h1M173 285h1M187 285h1M150 286h1M151 286h1M152 286h1M153 286h1M154 286h1M156 286h1M157 286h1M158 286h1M163 286h1M150 287h1M151 287h1M152 287h1M153 287h1M154 287h1M155 287h1M156 287h1M157 287h1M161 287h1M162 287h1M192 287h1M150 288h1M151 288h1M152 288h1M153 288h1M154 288h1M156 288h1M149 289h1M150 289h1M151 289h1M152 289h1M153 289h1M159 289h1M161 289h1M149 290h1M150 290h1M151 290h1M152 290h1M153 290h1M156 290h1M172 290h1M153 291h1M154 291h1M156 291h1M163 291h1M176 291h1M188 291h1M148 292h1M152 292h1M153 292h1M154 292h1M155 292h1M148 293h1M149 293h1M150 293h1M151 293h1M152 293h1M153 293h1M148 294h1M149 294h1M150 294h1M154 294h1M148 295h1M150 295h1M151 295h1M152 295h1M153 295h1M148 296h1M150 296h1M151 296h1M152 296h1M150 297h1M152 297h1M153 297h1M157 297h1M184 298h1M149 299h1M150 299h1M166 299h1M148 300h1M148 301h1M149 301h1M150 301h1M152 301h1M151 302h1M153 304h1M169 304h1M148 305h1M153 306h1M152 308h1M187 309h1M156 310h1M194 310h1M161 318h1" stroke="#008a00" stroke-width="1" transform="translate(0 0.5)"/><path d="M147 243h1M150 237h1M150 243h1M153 244h1M153 256h1M154 246h1M154 253h1M155 235h1M155 236h1M155 239h1M155 244h1M156 223h1M156 238h1M156 250h1M157 249h1M158 244h1M158 245h1M158 247h1M158 249h1M159 243h1M159 245h1M159 248h1M159 252h1M160 233h1M160 238h1M160 240h1M161 241h1M161 244h1M161 247h1M161 249h1M162 242h1M162 248h1M162 249h1M162 251h1M162 253h1M163 231h1M163 238h1M163 239h1M163 240h1M163 241h1M163 244h1M163 247h1M165 242h1M165 244h1M165 247h1M165 248h1M166 239h1M166 241h1M166 245h1M166 247h1M166 248h1M167 227h1M167 230h1M167 234h1M167 243h1M167 251h1M168 233h1M168 245h1M168 247h1M169 237h1M169 240h1M169 246h1M169 252h1M169 255h1M169 257h1M170 234h1M170 238h1M170 242h1M171 232h1M171 234h1M171 241h1M171 244h1M171 250h1M172 232h1M172 243h1M172 253h1M173 242h1M173 244h1M174 236h1M174 239h1M174 251h1M176 245h1M177 234h1M177 236h1M177 246h1M177 247h1M178 238h1M178 241h1M178 244h1M179 239h1M179 243h1M179 248h1M179 251h1M180 240h1M180 241h1M180 242h1M180 245h1M181 239h1M181 243h1M181 245h1M181 252h1M182 236h1M182 241h1M182 249h1M182 255h1M183 245h1M183 249h1M184 235h1M184 239h1M184 241h1M184 253h1M185 238h1M185 240h1M185 246h1M186 243h1M186 256h1M187 238h1M187 245h1M187 251h1M188 245h1M190 236h1M193 236h1M193 245h1M193 253h1M194 239h1M195 243h1M195 244h1M197 240h1M200 244h1M201 239h1M202 249h1" stroke="#ff2020" stroke-width="1" transform="translate(0 0.5)"/><path d="M163 236h1M165 245h1M170 233h1M171 240h1M171 241h1M171 243h1M172 238h1M173 242h1M174 248h1M175 242h1M176 237h1M176 238h1M176 240h1M176 245h1M176 246h1M177 240h1M177 241h1M177 242h1M177 243h1M178 239h1M178 240h1M178 242h1M178 243h1M178 249h1M179 241h1M180 236h1M180 244h1M182 249h1M183 239h1M183 243h1M184 243h1M187 239h1M187 242h1M188 240h1M195 238h1" stroke="#ff2020" stroke-width="1" transform="translate(0 0.5)"/><path d="M132 253h1M136 256h1M136 257h1M137 253h1M139 254h1M139 256h1M141 255h1M142 254h1" stroke="#111" stroke-width="1" transform="translate(0 0.5)"/><path d="M144 257h1M145 255h1M145 256h1" stroke="#111" stroke-width="1" transform="translate(0 0.5)"/><path d="M148 257h1M149 255h1M149 256h1M152 255h1M152 257h1M153 256h1M154 255h1M155 255h1M155 257h1M159 255h1M160 255h1M161 256h1M169 255h1M150 236h1M150 239h1M150 240h1M149 244h1M148 247h1M149 249h1M148 252h1M149 254h1" stroke="#ff2020" stroke-width="1" transform="translate(0 0.5)"/><path d="M139 257h1M141 257h1M142 257h1M143 257h1M144 257h1M145 257h1" stroke="#221010" stroke-width="1" transform="translate(0 0.5)"/><path d="M144 254.6L146 257.9H142Z" fill="#111"/>
<path d="M147.2 202.4V325.1M60.3 258.6H205.9" stroke="#ec3248" stroke-width="1.2" fill="none"/>
<path d="M54.8 202.4H205.9V325.1H60.3V202.4" stroke="#3a38d8" stroke-width="1.35" fill="none"/>
<path d="M66.18 325.1V329.9M54.8 318.91H60.3M70.37 325.1V329.9M54.8 315.46H60.3M73.34 325.1V329.9M54.8 313.01H60.3M75.64 325.1V329.9M54.8 311.12H60.3M77.52 325.1V329.9M54.8 309.57H60.3M79.11 325.1V329.9M54.8 308.25H60.3M80.49 325.1V329.9M54.8 307.12H60.3M81.71 325.1V329.9M54.8 306.12H60.3M82.80 325.1V329.9M54.8 305.22H60.3M89.95 325.1V329.9M54.8 299.33H60.3M94.13 325.1V329.9M54.8 295.88H60.3M97.10 325.1V329.9M54.8 293.43H60.3M99.41 325.1V329.9M54.8 291.53H60.3M101.29 325.1V329.9M54.8 289.98H60.3M102.88 325.1V329.9M54.8 288.67H60.3M104.26 325.1V329.9M54.8 287.53H60.3M105.47 325.1V329.9M54.8 286.53H60.3M106.56 325.1V329.9M54.8 285.64H60.3M113.71 325.1V329.9M54.8 279.74H60.3M117.90 325.1V329.9M54.8 276.29H60.3M120.87 325.1V329.9M54.8 273.84H60.3M123.17 325.1V329.9M54.8 271.95H60.3M125.05 325.1V329.9M54.8 270.40H60.3M126.64 325.1V329.9M54.8 269.08H60.3M128.02 325.1V329.9M54.8 267.95H60.3M129.24 325.1V329.9M54.8 266.95H60.3M130.32 325.1V329.9M54.8 266.05H60.3M137.48 325.1V329.9M54.8 260.16H60.3M141.66 325.1V329.9M54.8 256.71H60.3M144.63 325.1V329.9M54.8 254.26H60.3M146.93 325.1V329.9M54.8 252.36H60.3M148.81 325.1V329.9M54.8 250.81H60.3M150.41 325.1V329.9M54.8 249.50H60.3M151.78 325.1V329.9M54.8 248.36H60.3M153.00 325.1V329.9M54.8 247.36H60.3M154.09 325.1V329.9M54.8 246.47H60.3M161.24 325.1V329.9M54.8 240.57H60.3M165.42 325.1V329.9M54.8 237.12H60.3M168.39 325.1V329.9M54.8 234.67H60.3M170.70 325.1V329.9M54.8 232.78H60.3M172.58 325.1V329.9M54.8 231.23H60.3M174.17 325.1V329.9M54.8 229.91H60.3M175.55 325.1V329.9M54.8 228.78H60.3M176.76 325.1V329.9M54.8 227.78H60.3M177.85 325.1V329.9M54.8 226.88H60.3M185.00 325.1V329.9M54.8 220.99H60.3M189.19 325.1V329.9M54.8 217.54H60.3M192.16 325.1V329.9M54.8 215.09H60.3M194.46 325.1V329.9M54.8 213.19H60.3M196.34 325.1V329.9M54.8 211.64H60.3M197.93 325.1V329.9M54.8 210.33H60.3M199.31 325.1V329.9M54.8 209.19H60.3M200.53 325.1V329.9M54.8 208.19H60.3M201.61 325.1V329.9M54.8 207.30H60.3M54.8 325.1H60.3M60.3 325.1V329.9M205.9 325.1V329.9" stroke="#2424e0" stroke-width="1.1" fill="none"/>
<g font-family="'Liberation Sans', sans-serif" fill="#2424e0" font-weight="bold"><text x="53.6" y="340.5" font-size="5.5">10</text><text x="59.2" y="338.4" font-size="8.4">1</text><g transform="translate(50.1 326.7) rotate(-90)"><text x="-3.9" y="0" font-size="5.5">10</text><text x="1.2" y="-2.5" font-size="8.4">1</text></g><text x="77.4" y="340.5" font-size="5.5">10</text><text x="83.0" y="338.4" font-size="8.4">2</text><g transform="translate(50.1 306.6) rotate(-90)"><text x="-3.9" y="0" font-size="5.5">10</text><text x="1.2" y="-2.5" font-size="8.4">2</text></g><text x="101.2" y="340.5" font-size="5.5">10</text><text x="106.8" y="338.4" font-size="8.4">3</text><g transform="translate(50.1 286.5) rotate(-90)"><text x="-3.9" y="0" font-size="5.5">10</text><text x="1.2" y="-2.5" font-size="8.4">3</text></g><text x="124.9" y="340.5" font-size="5.5">10</text><text x="130.5" y="338.4" font-size="8.4">4</text><g transform="translate(50.1 266.4) rotate(-90)"><text x="-3.9" y="0" font-size="5.5">10</text><text x="1.2" y="-2.5" font-size="8.4">4</text></g><text x="148.7" y="340.5" font-size="5.5">10</text><text x="154.3" y="338.4" font-size="8.4">5</text><g transform="translate(50.1 246.3) rotate(-90)"><text x="-3.9" y="0" font-size="5.5">10</text><text x="1.2" y="-2.5" font-size="8.4">5</text></g><text x="172.4" y="340.5" font-size="5.5">10</text><text x="178.0" y="338.4" font-size="8.4">6</text><g transform="translate(50.1 226.2) rotate(-90)"><text x="-3.9" y="0" font-size="5.5">10</text><text x="1.2" y="-2.5" font-size="8.4">6</text></g><text x="196.2" y="340.5" font-size="5.5">10</text><text x="201.8" y="338.4" font-size="8.4">7</text><g transform="translate(50.1 206.2) rotate(-90)"><text x="-3.9" y="0" font-size="5.5">10</text><text x="1.2" y="-2.5" font-size="8.4">7</text></g></g>
<g font-family="'Liberation Sans', sans-serif" font-size="11.3"><text x="61.5" y="212.9" fill="#f03838" textLength="33.2" lengthAdjust="spacingAndGlyphs">Q5-UL</text><text x="61.5" y="222.9" fill="#f03838">0.4%</text><text x="176.6" y="212.9" fill="#f03838" textLength="27.8" lengthAdjust="spacingAndGlyphs">Dead</text><text x="176.6" y="222.9" fill="#f03838">0.7%</text><text x="61.5" y="314.3" fill="#2020cc">Live</text><text x="61.5" y="323.9" fill="#2020cc">91.5%</text><text x="158.3" y="314.3" fill="#1e9a1e" textLength="46.6" lengthAdjust="spacingAndGlyphs">Apoptotic</text><text x="158.3" y="323.9" fill="#1e9a1e">7.4%</text></g>
<rect x="217.6" y="199.1" width="19.6" height="143.8" fill="#e9ecf7"/>
<rect x="217.6" y="327.3" width="170.4" height="15.6" fill="#e9ecf7"/>
<rect x="237.2" y="201.4" width="149.1" height="125.9" fill="#fff"/>
<path d="M326.0 259.9 L315.0 259.9 L308.0 262.3 L303.3 264.7 L294.7 269.1 L286.0 274.3 L282.5 277.7 L281.7 281.2 L283.4 286.4 L287.7 291.6 L294.7 295.9 L303.3 299.4 L312.0 302.0 L322.4 303.7 L326.0 304.6 Z" fill="#0420ff"/><path d="M306 261h1M299 262h1M296 263h1M305 263h1M303 264h1M298 265h1M297 266h1M296 267h1M297 267h1M291 269h1M291 270h1M286 271h1M290 271h1M284 273h1M285 273h1M272 274h1M282 274h1M284 274h1M285 274h1M283 275h1M270 276h1M273 276h1M280 276h1M282 276h1M283 276h1M272 277h1M275 277h1M279 277h1M281 277h1M282 277h1M271 278h1M278 278h1M279 278h1M281 278h1M269 279h1M272 279h1M278 279h1M281 279h1M274 280h1M277 280h1M278 280h1M279 280h1M280 280h1M281 280h1M269 281h1M272 281h1M273 281h1M274 281h1M275 281h1M279 281h1M280 281h1M281 281h1M273 282h1M274 282h1M278 282h1M280 282h1M281 282h1M274 283h1M278 283h1M279 283h1M280 283h1M281 283h1M270 284h1M273 284h1M274 284h1M275 284h1M279 284h1M281 284h1M282 284h1M269 285h1M272 285h1M274 285h1M276 285h1M277 285h1M280 285h1M282 285h1M259 286h1M274 286h1M276 286h1M277 286h1M278 286h1M279 286h1M281 286h1M282 286h1M270 287h1M272 287h1M273 287h1M275 287h1M276 287h1M278 287h1M279 287h1M280 287h1M281 287h1M283 287h1M259 288h1M273 288h1M274 288h1M275 288h1M276 288h1M278 288h1M279 288h1M280 288h1M281 288h1M284 288h1M274 289h1M280 289h1M281 289h1M283 289h1M264 290h1M275 290h1M279 290h1M284 290h1M285 290h1M286 290h1M275 291h1M281 291h1M282 291h1M283 291h1M285 291h1M287 291h1M274 292h1M276 292h1M279 292h1M281 292h1M283 292h1M284 292h1M285 292h1M286 292h1M287 292h1M288 292h1M274 293h1M279 293h1M280 293h1M283 293h1M285 293h1M286 293h1M287 293h1M288 293h1M289 293h1M290 293h1M277 294h1M281 294h1M287 294h1M288 294h1M290 294h1M271 295h1M280 295h1M281 295h1M282 295h1M283 295h1M285 295h1M286 295h1M289 295h1M290 295h1M291 295h1M280 296h1M283 296h1M284 296h1M285 296h1M287 296h1M288 296h1M290 296h1M291 296h1M294 296h1M295 296h1M278 297h1M285 297h1M287 297h1M288 297h1M290 297h1M292 297h1M293 297h1M294 297h1M295 297h1M297 297h1M298 297h1M262 298h1M286 298h1M287 298h1M288 298h1M289 298h1M290 298h1M291 298h1M292 298h1M293 298h1M294 298h1M296 298h1M297 298h1M298 298h1M300 298h1M276 299h1M278 299h1M279 299h1M286 299h1M291 299h1M292 299h1M294 299h1M295 299h1M296 299h1M298 299h1M299 299h1M300 299h1M301 299h1M302 299h1M303 299h1M274 300h1M289 300h1M291 300h1M298 300h1M299 300h1M301 300h1M302 300h1M304 300h1M305 300h1M274 301h1M277 301h1M280 301h1M282 301h1M288 301h1M289 301h1M290 301h1M291 301h1M296 301h1M297 301h1M301 301h1M303 301h1M304 301h1M305 301h1M308 301h1M309 301h1M281 302h1M282 302h1M289 302h1M295 302h1M299 302h1M300 302h1M301 302h1M302 302h1M303 302h1M304 302h1M305 302h1M307 302h1M308 302h1M310 302h1M311 302h1M312 302h1M313 302h1M314 302h1M286 303h1M290 303h1M292 303h1M293 303h1M296 303h1M297 303h1M298 303h1M300 303h1M303 303h1M304 303h1M305 303h1M308 303h1M310 303h1M311 303h1M312 303h1M314 303h1M315 303h1M316 303h1M317 303h1M318 303h1M319 303h1M320 303h1M290 304h1M292 304h1M295 304h1M296 304h1M298 304h1M301 304h1M303 304h1M304 304h1M306 304h1M307 304h1M308 304h1M311 304h1M313 304h1M314 304h1M315 304h1M316 304h1M318 304h1M319 304h1M320 304h1M321 304h1M325 304h1M289 305h1M298 305h1M299 305h1M302 305h1M304 305h1M307 305h1M309 305h1M310 305h1M312 305h1M313 305h1M314 305h1M315 305h1M317 305h1M318 305h1M321 305h1M322 305h1M323 305h1M324 305h1M263 306h1M278 306h1M281 306h1M287 306h1M291 306h1M299 306h1M301 306h1M302 306h1M303 306h1M306 306h1M308 306h1M309 306h1M310 306h1M311 306h1M313 306h1M315 306h1M316 306h1M317 306h1M318 306h1M319 306h1M320 306h1M325 306h1M276 307h1M284 307h1M296 307h1M301 307h1M304 307h1M306 307h1M307 307h1M308 307h1M309 307h1M310 307h1M311 307h1M314 307h1M316 307h1M318 307h1M322 307h1M324 307h1M269 308h1M289 308h1M292 308h1M301 308h1M303 308h1M309 308h1M311 308h1M312 308h1M316 308h1M318 308h1M321 308h1M322 308h1M323 308h1M276 309h1M284 309h1M300 309h1M304 309h1M305 309h1M307 309h1M308 309h1M314 309h1M315 309h1M316 309h1M319 309h1M320 309h1M321 309h1M322 309h1M323 309h1M324 309h1M325 309h1M272 310h1M285 310h1M292 310h1M296 310h1M300 310h1M312 310h1M315 310h1M317 310h1M318 310h1M322 310h1M276 311h1M309 311h1M311 311h1M313 311h1M315 311h1M317 311h1M319 311h1M320 311h1M263 312h1M271 312h1M273 312h1M291 312h1M299 312h1M315 312h1M320 312h1M321 312h1M324 312h1M292 313h1M299 313h1M303 313h1M304 313h1M312 313h1M317 313h1M319 313h1M320 313h1M322 313h1M324 313h1M307 314h1M316 314h1M319 314h1M321 314h1M325 314h1M269 315h1M295 315h1M307 315h1M316 315h1M319 315h1M322 315h1M325 315h1M266 316h1M302 316h1M308 316h1M309 316h1M315 316h1M317 316h1M318 316h1M322 316h1M325 316h1M276 317h1M282 317h1M313 317h1M317 317h1M319 317h1M321 317h1M292 318h1M295 318h1M300 318h1M312 318h1M323 318h1M324 318h1M283 319h1M294 319h1M298 319h1M303 319h1M321 319h1M278 320h1M282 320h1M294 320h1M298 320h1M316 320h1M319 320h1M288 322h1M318 322h1M273 323h1M284 323h1M303 323h1M320 323h1M321 323h1M280 324h1M312 324h1M320 324h1M292 325h1M278 326h1M303 326h1M311 326h1M316 326h1M324 326h1" stroke="#0420ff" stroke-width="1" transform="translate(0 0.5)"/><path d="M326.8 259.6 L344.3 259.6 L342.6 268.8 L337.5 278.9 L332.5 289.0 L328.1 297.4 L326.8 299.0 Z" fill="#008a00"/><path d="M344 260h1M346 260h1M347 260h1M351 260h1M352 260h1M356 260h1M357 260h1M344 261h1M346 261h1M348 261h1M349 261h1M352 261h1M356 261h1M360 261h1M374 261h1M344 262h1M346 262h1M348 262h1M350 262h1M351 262h1M353 262h1M355 262h1M356 262h1M357 262h1M358 262h1M365 262h1M344 263h1M346 263h1M348 263h1M350 263h1M352 263h1M355 263h1M358 263h1M343 264h1M344 264h1M345 264h1M346 264h1M350 264h1M351 264h1M352 264h1M358 264h1M359 264h1M362 264h1M368 264h1M343 265h1M344 265h1M345 265h1M346 265h1M347 265h1M349 265h1M350 265h1M353 265h1M354 265h1M357 265h1M358 265h1M359 265h1M343 266h1M344 266h1M346 266h1M347 266h1M348 266h1M349 266h1M352 266h1M356 266h1M357 266h1M359 266h1M343 267h1M345 267h1M346 267h1M347 267h1M348 267h1M349 267h1M350 267h1M353 267h1M355 267h1M343 268h1M344 268h1M345 268h1M346 268h1M347 268h1M348 268h1M349 268h1M350 268h1M352 268h1M360 268h1M364 268h1M371 268h1M342 269h1M343 269h1M344 269h1M345 269h1M346 269h1M347 269h1M348 269h1M349 269h1M351 269h1M352 269h1M353 269h1M354 269h1M358 269h1M369 269h1M370 269h1M342 270h1M344 270h1M345 270h1M346 270h1M348 270h1M349 270h1M350 270h1M352 270h1M353 270h1M354 270h1M355 270h1M356 270h1M357 270h1M361 270h1M341 271h1M342 271h1M343 271h1M345 271h1M346 271h1M347 271h1M348 271h1M349 271h1M350 271h1M351 271h1M357 271h1M360 271h1M341 272h1M342 272h1M343 272h1M344 272h1M345 272h1M346 272h1M349 272h1M350 272h1M351 272h1M353 272h1M355 272h1M356 272h1M340 273h1M341 273h1M343 273h1M344 273h1M347 273h1M350 273h1M351 273h1M353 273h1M357 273h1M382 273h1M341 274h1M342 274h1M343 274h1M344 274h1M345 274h1M346 274h1M349 274h1M350 274h1M360 274h1M362 274h1M339 275h1M340 275h1M341 275h1M342 275h1M345 275h1M346 275h1M348 275h1M351 275h1M353 275h1M358 275h1M363 275h1M365 275h1M340 276h1M341 276h1M343 276h1M344 276h1M345 276h1M354 276h1M384 276h1M338 277h1M339 277h1M340 277h1M341 277h1M343 277h1M345 277h1M346 277h1M347 277h1M348 277h1M349 277h1M350 277h1M338 278h1M339 278h1M340 278h1M342 278h1M343 278h1M344 278h1M345 278h1M348 278h1M350 278h1M351 278h1M337 279h1M338 279h1M339 279h1M340 279h1M343 279h1M346 279h1M349 279h1M353 279h1M356 279h1M337 280h1M339 280h1M341 280h1M342 280h1M344 280h1M345 280h1M346 280h1M347 280h1M349 280h1M367 280h1M336 281h1M337 281h1M338 281h1M339 281h1M340 281h1M341 281h1M342 281h1M344 281h1M345 281h1M353 281h1M354 281h1M358 281h1M360 281h1M361 281h1M336 282h1M337 282h1M341 282h1M343 282h1M344 282h1M363 282h1M382 282h1M335 283h1M336 283h1M338 283h1M339 283h1M341 283h1M342 283h1M344 283h1M360 283h1M335 284h1M336 284h1M337 284h1M338 284h1M340 284h1M341 284h1M343 284h1M345 284h1M334 285h1M335 285h1M336 285h1M337 285h1M338 285h1M339 285h1M340 285h1M341 285h1M342 285h1M343 285h1M354 285h1M334 286h1M335 286h1M336 286h1M337 286h1M338 286h1M339 286h1M343 286h1M344 286h1M333 287h1M334 287h1M335 287h1M336 287h1M337 287h1M338 287h1M339 287h1M340 287h1M341 287h1M342 287h1M343 287h1M360 287h1M333 288h1M334 288h1M335 288h1M337 288h1M338 288h1M342 288h1M347 288h1M332 289h1M333 289h1M334 289h1M335 289h1M336 289h1M337 289h1M339 289h1M342 289h1M346 289h1M332 290h1M333 290h1M334 290h1M336 290h1M337 290h1M339 290h1M340 290h1M331 291h1M332 291h1M333 291h1M337 291h1M353 291h1M331 292h1M332 292h1M333 292h1M334 292h1M335 292h1M337 292h1M340 292h1M330 293h1M331 293h1M332 293h1M333 293h1M334 293h1M335 293h1M336 293h1M342 293h1M330 294h1M331 294h1M332 294h1M333 294h1M336 294h1M330 295h1M331 295h1M332 295h1M336 295h1M343 295h1M329 296h1M330 296h1M331 296h1M332 296h1M333 296h1M336 296h1M328 297h1M329 297h1M330 297h1M331 297h1M332 297h1M334 297h1M327 298h1M329 298h1M331 298h1M332 298h1M333 298h1M334 298h1M346 298h1M327 299h1M329 299h1M331 299h1M332 299h1M333 299h1M334 299h1M337 299h1M327 300h1M329 300h1M332 300h1M333 300h1M336 300h1M327 301h1M330 301h1M331 301h1M327 302h1M328 302h1M329 302h1M334 302h1M337 302h1M339 302h1M347 302h1M327 303h1M329 303h1M333 303h1M329 304h1M331 304h1M332 304h1M346 304h1M328 308h1M328 309h1M341 311h1" stroke="#008a00" stroke-width="1" transform="translate(0 0.5)"/><path d="M328 251h1M329 246h1M330 236h1M330 237h1M330 247h1M331 235h1M331 247h1M332 234h1M332 245h1M334 237h1M334 241h1M334 247h1M334 249h1M334 254h1M335 241h1M335 244h1M335 246h1M336 226h1M336 243h1M336 247h1M337 242h1M337 247h1M337 255h1M338 240h1M338 241h1M338 251h1M338 252h1M338 256h1M339 242h1M339 244h1M341 238h1M341 245h1M341 253h1M342 241h1M342 247h1M342 257h1M343 243h1M343 250h1M343 257h1M344 232h1M344 238h1M344 241h1M344 243h1M344 246h1M344 247h1M344 254h1M344 257h1M345 257h1M346 243h1M346 246h1M346 249h1M346 253h1M347 233h1M347 240h1M347 242h1M347 249h1M347 251h1M348 240h1M348 245h1M348 256h1M349 240h1M349 250h1M349 251h1M349 257h1M350 231h1M350 237h1M350 242h1M350 247h1M350 249h1M350 252h1M351 245h1M351 255h1M351 256h1M351 258h1M352 242h1M352 244h1M352 245h1M352 251h1M352 253h1M353 240h1M353 244h1M353 245h1M353 246h1M353 249h1M353 257h1M354 243h1M354 245h1M354 250h1M354 252h1M355 240h1M355 245h1M355 246h1M355 248h1M355 249h1M355 250h1M355 255h1M356 242h1M356 253h1M356 257h1M356 258h1M357 229h1M357 248h1M357 249h1M357 250h1M358 234h1M358 241h1M358 243h1M358 244h1M358 255h1M359 240h1M359 248h1M359 251h1M360 251h1M360 257h1M361 246h1M361 249h1M362 237h1M362 247h1M362 248h1M362 253h1M363 239h1M363 243h1M363 248h1M363 250h1M364 237h1M364 239h1M364 250h1M365 237h1M366 237h1M366 244h1M366 249h1M368 247h1M370 243h1M371 241h1M373 242h1M373 246h1M373 248h1M375 249h1M376 250h1M377 244h1M379 234h1M380 247h1M381 246h1" stroke="#ff2020" stroke-width="1" transform="translate(0 0.5)"/><path d="M341 241h1M341 245h1M342 244h1M343 234h1M343 246h1M344 245h1M345 248h1M347 245h1M347 249h1M348 243h1M348 248h1M348 251h1M349 252h1M350 249h1M351 245h1M351 246h1M351 248h1M351 249h1M352 244h1M352 248h1M352 252h1M353 253h1M354 242h1M354 244h1M355 247h1M356 243h1M356 250h1M357 248h1M359 248h1M361 248h1M361 250h1M362 249h1M362 250h1M363 246h1M363 251h1M370 250h1" stroke="#ff2020" stroke-width="1" transform="translate(0 0.5)"/><path d="M304 245h1M305 250h1M308 254h1M310 246h1M312 244h1M312 250h1M312 251h1M313 246h1M313 250h1M315 244h1M315 251h1M319 237h1M320 243h1M323 248h1M325 235h1M325 242h1M325 250h1" stroke="#111" stroke-width="1" transform="translate(0 0.5)"/><path d="M319 257h1M320 253h1M320 256h1M321 251h1M322 253h1M322 257h1M323 254h1M323 255h1M324 252h1M325 254h1" stroke="#111" stroke-width="1" transform="translate(0 0.5)"/><path d="M328 255h1M329 256h1M330 256h1M331 255h1M331 256h1M331 257h1M332 256h1M334 255h1M335 256h1M335 257h1M336 257h1M337 256h1M338 257h1M341 255h1M343 256h1M345 257h1M346 257h1M348 256h1M349 255h1M351 256h1M354 257h1M355 256h1M360 257h1M327 237h1M329 237h1M329 242h1M328 244h1M327 245h1M328 245h1M329 245h1M328 246h1M327 250h1" stroke="#ff2020" stroke-width="1" transform="translate(0 0.5)"/><path d="M320 257h1M323 257h1M324 257h1" stroke="#221010" stroke-width="1" transform="translate(0 0.5)"/>
<path d="M326.3 201.4V327.3M237.2 259.3H386.3" stroke="#ec3248" stroke-width="1.2" fill="none"/>
<path d="M231.7 201.4H386.3V327.3H237.2V201.4" stroke="#3a38d8" stroke-width="1.35" fill="none"/>
<path d="M231.7 327.00H237.2M243.23 327.3V332.1M231.7 320.95H237.2M247.51 327.3V332.1M231.7 317.41H237.2M250.55 327.3V332.1M231.7 314.90H237.2M252.91 327.3V332.1M231.7 312.95H237.2M254.84 327.3V332.1M231.7 311.36H237.2M256.47 327.3V332.1M231.7 310.02H237.2M257.88 327.3V332.1M231.7 308.85H237.2M259.12 327.3V332.1M231.7 307.82H237.2M260.24 327.3V332.1M231.7 306.90H237.2M267.56 327.3V332.1M231.7 300.85H237.2M271.85 327.3V332.1M231.7 297.31H237.2M274.89 327.3V332.1M231.7 294.80H237.2M277.25 327.3V332.1M231.7 292.86H237.2M279.17 327.3V332.1M231.7 291.27H237.2M280.80 327.3V332.1M231.7 289.92H237.2M282.21 327.3V332.1M231.7 288.75H237.2M283.46 327.3V332.1M231.7 287.73H237.2M284.57 327.3V332.1M231.7 286.81H237.2M291.90 327.3V332.1M231.7 280.76H237.2M296.18 327.3V332.1M231.7 277.22H237.2M299.22 327.3V332.1M231.7 274.71H237.2M301.58 327.3V332.1M231.7 272.76H237.2M303.51 327.3V332.1M231.7 271.17H237.2M305.14 327.3V332.1M231.7 269.82H237.2M306.55 327.3V332.1M231.7 268.66H237.2M307.79 327.3V332.1M231.7 267.63H237.2M308.91 327.3V332.1M231.7 266.71H237.2M316.23 327.3V332.1M231.7 260.66H237.2M320.52 327.3V332.1M231.7 257.12H237.2M323.56 327.3V332.1M231.7 254.61H237.2M325.91 327.3V332.1M231.7 252.66H237.2M327.84 327.3V332.1M231.7 251.07H237.2M329.47 327.3V332.1M231.7 249.73H237.2M330.88 327.3V332.1M231.7 248.56H237.2M332.13 327.3V332.1M231.7 247.54H237.2M333.24 327.3V332.1M231.7 246.62H237.2M340.57 327.3V332.1M231.7 240.57H237.2M344.85 327.3V332.1M231.7 237.03H237.2M347.89 327.3V332.1M231.7 234.52H237.2M350.25 327.3V332.1M231.7 232.57H237.2M352.18 327.3V332.1M231.7 230.98H237.2M353.81 327.3V332.1M231.7 229.63H237.2M355.22 327.3V332.1M231.7 228.47H237.2M356.46 327.3V332.1M231.7 227.44H237.2M357.58 327.3V332.1M231.7 226.52H237.2M364.90 327.3V332.1M231.7 220.47H237.2M369.19 327.3V332.1M231.7 216.93H237.2M372.23 327.3V332.1M231.7 214.42H237.2M374.58 327.3V332.1M231.7 212.47H237.2M376.51 327.3V332.1M231.7 210.88H237.2M378.14 327.3V332.1M231.7 209.54H237.2M379.55 327.3V332.1M231.7 208.37H237.2M380.80 327.3V332.1M231.7 207.34H237.2M381.91 327.3V332.1M231.7 206.42H237.2M231.7 327.3H237.2M237.2 327.3V332.1M386.3 327.3V332.1" stroke="#2424e0" stroke-width="1.1" fill="none"/>
<g font-family="'Liberation Sans', sans-serif" fill="#2424e0" font-weight="bold"><text x="230.5" y="342.7" font-size="5.5">10</text><text x="236.1" y="340.6" font-size="8.4">1</text><g transform="translate(227.0 328.9) rotate(-90)"><text x="-3.9" y="0" font-size="5.5">10</text><text x="1.2" y="-2.5" font-size="8.4">1</text></g><text x="254.8" y="342.7" font-size="5.5">10</text><text x="260.4" y="340.6" font-size="8.4">2</text><g transform="translate(227.0 308.2) rotate(-90)"><text x="-3.9" y="0" font-size="5.5">10</text><text x="1.2" y="-2.5" font-size="8.4">2</text></g><text x="279.2" y="342.7" font-size="5.5">10</text><text x="284.8" y="340.6" font-size="8.4">3</text><g transform="translate(227.0 287.6) rotate(-90)"><text x="-3.9" y="0" font-size="5.5">10</text><text x="1.2" y="-2.5" font-size="8.4">3</text></g><text x="303.5" y="342.7" font-size="5.5">10</text><text x="309.1" y="340.6" font-size="8.4">4</text><g transform="translate(227.0 267.0) rotate(-90)"><text x="-3.9" y="0" font-size="5.5">10</text><text x="1.2" y="-2.5" font-size="8.4">4</text></g><text x="327.8" y="342.7" font-size="5.5">10</text><text x="333.4" y="340.6" font-size="8.4">5</text><g transform="translate(227.0 246.4) rotate(-90)"><text x="-3.9" y="0" font-size="5.5">10</text><text x="1.2" y="-2.5" font-size="8.4">5</text></g><text x="352.2" y="342.7" font-size="5.5">10</text><text x="357.8" y="340.6" font-size="8.4">6</text><g transform="translate(227.0 225.8) rotate(-90)"><text x="-3.9" y="0" font-size="5.5">10</text><text x="1.2" y="-2.5" font-size="8.4">6</text></g><text x="376.5" y="342.7" font-size="5.5">10</text><text x="382.1" y="340.6" font-size="8.4">7</text><g transform="translate(227.0 205.2) rotate(-90)"><text x="-3.9" y="0" font-size="5.5">10</text><text x="1.2" y="-2.5" font-size="8.4">7</text></g></g>
<g font-family="'Liberation Sans', sans-serif" font-size="11.3"><text x="238.4" y="211.9" fill="#f03838" textLength="34.0" lengthAdjust="spacingAndGlyphs">Q5-UL</text><text x="238.4" y="221.9" fill="#f03838">0.4%</text><text x="357.0" y="211.9" fill="#f03838" textLength="27.8" lengthAdjust="spacingAndGlyphs">Dead</text><text x="357.0" y="221.9" fill="#f03838">0.8%</text><text x="238.4" y="316.5" fill="#2020cc">Live</text><text x="238.4" y="326.1" fill="#2020cc">90.4%</text><text x="338.7" y="316.5" fill="#1e9a1e" textLength="46.6" lengthAdjust="spacingAndGlyphs">Apoptotic</text><text x="338.7" y="326.1" fill="#1e9a1e">8.4%</text></g>
<g font-family="'Liberation Sans', sans-serif" fill="#1a1a1a" font-size="8.6"><text x="125.5" y="12.2" text-anchor="middle">Control</text><text x="292.1" y="12.1" textLength="20.9" lengthAdjust="spacingAndGlyphs">H<tspan font-size="5.6" dy="2.6">2</tspan><tspan dy="-2.6">O</tspan><tspan font-size="5.6" dy="2.6">2</tspan></text><text x="79.7" y="193.9" textLength="89.8" lengthAdjust="spacingAndGlyphs">FMU200 (1 µM) + H<tspan font-size="5.6" dy="2.6">2</tspan><tspan dy="-2.6">O</tspan><tspan font-size="5.6" dy="2.6">2</tspan></text><text x="259.4" y="193.6" textLength="92.6" lengthAdjust="spacingAndGlyphs">FMU200 (0.1 µM) + H<tspan font-size="5.6" dy="2.6">2</tspan><tspan dy="-2.6">O</tspan><tspan font-size="5.6" dy="2.6">2</tspan></text><text x="18.3" y="10.9">A</text><text x="191.8" y="368.4">Annexin V-PE</text><text transform="translate(11.4 185.6) rotate(-90)" text-anchor="middle" font-size="8.8" fill="#000" stroke="#000" stroke-width="0.25" textLength="22.7" lengthAdjust="spacingAndGlyphs">7-AAD</text></g>
<path d="M29.6 20V353.2H388" stroke="#a6a6a6" stroke-width="1.2" fill="none"/>
<path d="M29.7 14.8L26.2 21.9H33.2Z M395.4 353.3L387.3 350.1V356.5Z" fill="#000"/>
<rect x="69.9" y="505.1" width="21.3" height="0.7" fill="#111" stroke="#2a2a2a" stroke-width="0.9"/><path d="M112.3 425.1V411.9M107.3 411.9h10" stroke="#3a3a3a" stroke-width="1.1" fill="none"/><rect x="101.6" y="425.1" width="21.3" height="80.7" fill="#3f201e" stroke="#2a2a2a" stroke-width="0.9"/><rect x="133.3" y="497.0" width="21.3" height="8.8" fill="#fff" stroke="#2a2a2a" stroke-width="0.9"/><path d="M176.0 463.1V443.2M171.0 443.2h10" stroke="#3a3a3a" stroke-width="1.1" fill="none"/><rect x="165.3" y="463.1" width="21.3" height="42.7" fill="#fff" stroke="#2a2a2a" stroke-width="0.9"/><path d="M64.3 385.2V505.8H191.5M59.1 505.8H64.3M59.1 481.7H64.3M59.1 457.6H64.3M59.1 433.4H64.3M59.1 409.3H64.3M59.1 385.2H64.3M80.6 505.8v4.2M112.3 505.8v4.2M144.0 505.8v4.2M176.0 505.8v4.2" stroke="#3a3a3a" stroke-width="1.1" fill="none"/><g font-family="'Liberation Sans', sans-serif" font-size="7.7" fill="#333"><text x="58.3" y="508.5" text-anchor="end">0</text><text x="58.3" y="484.4" text-anchor="end">2</text><text x="58.3" y="460.3" text-anchor="end">4</text><text x="58.3" y="436.1" text-anchor="end">6</text><text x="58.3" y="412.0" text-anchor="end">8</text><text x="58.3" y="387.9" text-anchor="end">10</text></g><path d="M84.4 498.2V397.9H113.5V404.8" stroke="#a0a0a0" stroke-width="1" fill="none"/>
<path d="M288.1 498.9V494.6M283.1 494.6h10" stroke="#3a3a3a" stroke-width="1.1" fill="none"/><rect x="277.5" y="498.9" width="21.3" height="8.7" fill="#0a0a0a" stroke="#2a2a2a" stroke-width="0.9"/><path d="M320.2 461.4V442.5M315.2 442.5h10" stroke="#3a3a3a" stroke-width="1.1" fill="none"/><rect x="309.6" y="461.4" width="21.3" height="46.2" fill="#3f201e" stroke="#2a2a2a" stroke-width="0.9"/><path d="M351.7 484.6V470.4M346.7 470.4h10" stroke="#3a3a3a" stroke-width="1.1" fill="none"/><rect x="341.1" y="484.6" width="21.3" height="23.0" fill="#fff" stroke="#2a2a2a" stroke-width="0.9"/><path d="M383.9 482.6V469.7M378.9 469.7h10" stroke="#3a3a3a" stroke-width="1.1" fill="none"/><rect x="373.2" y="482.6" width="21.3" height="25.0" fill="#fff" stroke="#2a2a2a" stroke-width="0.9"/><path d="M271.8 387.2V507.6H399.4M266.6 507.6H271.8M266.6 477.5H271.8M266.6 447.4H271.8M266.6 417.3H271.8M266.6 387.2H271.8M288.1 507.6v4.2M320.2 507.6v4.2M351.7 507.6v4.2M383.9 507.6v4.2" stroke="#3a3a3a" stroke-width="1.1" fill="none"/><g font-family="'Liberation Sans', sans-serif" font-size="7.7" fill="#333"><text x="265.8" y="510.3" text-anchor="end">0</text><text x="265.8" y="480.2" text-anchor="end">5</text><text x="265.8" y="450.1" text-anchor="end">10</text><text x="265.8" y="420.0" text-anchor="end">15</text><text x="265.8" y="389.9" text-anchor="end">20</text></g><path d="M292.2 489.6V428.2H321.4V435.9" stroke="#a0a0a0" stroke-width="1" fill="none"/>
<g font-family="'Liberation Sans', sans-serif" fill="#222"><text x="29.9" y="385.9" font-size="8.2" font-weight="bold">B</text><text x="229.0" y="385.9" font-size="8.4">C</text><text x="98.7" y="394.6" font-size="8" text-anchor="middle" fill="#111">**</text><text x="307.1" y="425" font-size="8" text-anchor="middle" fill="#111">*</text><text transform="translate(45.6 445.5) rotate(-90)" text-anchor="middle" font-size="8.0" textLength="106.4" lengthAdjust="spacingAndGlyphs">% of  cells AnnV<tspan font-size="5" dy="-2.5">+</tspan><tspan dy="2.5">/7-AAD</tspan><tspan font-size="5" dy="-2.5">+</tspan><tspan dy="2.5"> cells</tspan></text><text transform="translate(252.9 447.0) rotate(-90)" text-anchor="middle" font-size="8.0" textLength="106.9" lengthAdjust="spacingAndGlyphs">% of  cells AnnV<tspan font-size="5" dy="-2.5">+</tspan><tspan dy="2.5">/7-AAD</tspan><tspan font-size="5" dy="-2.5">-</tspan><tspan dy="2.5"> cells</tspan></text></g>
<g font-family="'Liberation Sans', sans-serif" fill="#1a1a1a" font-size="9.4"><text x="13.1" y="523.5" textLength="54.7" lengthAdjust="spacingAndGlyphs">H<tspan font-size="6" dy="2.5">2</tspan><tspan dy="-2.5">O</tspan><tspan font-size="6" dy="2.5">2</tspan><tspan dy="-2.5"> (10 µM)</tspan></text><text x="13.1" y="542.1" textLength="54.7" lengthAdjust="spacingAndGlyphs">FMU200 (µM)</text><path d="M77.8 519.5h5.6M77.8 537.2h5.6M109.5 537.2h5.6" stroke="#9a9a9a" stroke-width="0.9"/><path d="M110.0 519.5h4.6M112.3 517.2v4.6" stroke="#1a1a1a" stroke-width="1.25"/><path d="M141.7 519.5h4.6M144.0 517.2v4.6" stroke="#1a1a1a" stroke-width="1.25"/><path d="M173.7 519.5h4.6M176.0 517.2v4.6" stroke="#1a1a1a" stroke-width="1.25"/><text x="144.0" y="540.1" text-anchor="middle" font-size="10.3">1</text><text x="176.0" y="540.1" text-anchor="middle" font-size="10.3">0.1</text><text x="220.6" y="526.3" textLength="54.7" lengthAdjust="spacingAndGlyphs">H<tspan font-size="6" dy="2.5">2</tspan><tspan dy="-2.5">O</tspan><tspan font-size="6" dy="2.5">2</tspan><tspan dy="-2.5"> (10 µM)</tspan></text><text x="220.6" y="544.1" textLength="54.7" lengthAdjust="spacingAndGlyphs">FMU200 (µM)</text><path d="M285.3 522.3h5.6M285.3 539.2h5.6M317.4 539.2h5.6" stroke="#9a9a9a" stroke-width="0.9"/><path d="M317.9 522.3h4.6M320.2 520.0v4.6" stroke="#1a1a1a" stroke-width="1.25"/><path d="M349.4 522.3h4.6M351.7 520.0v4.6" stroke="#1a1a1a" stroke-width="1.25"/><path d="M381.6 522.3h4.6M383.9 520.0v4.6" stroke="#1a1a1a" stroke-width="1.25"/><text x="351.7" y="542.1" text-anchor="middle" font-size="10.3">1</text><text x="383.9" y="542.1" text-anchor="middle" font-size="10.3">0.1</text></g>
</svg></body></html>
